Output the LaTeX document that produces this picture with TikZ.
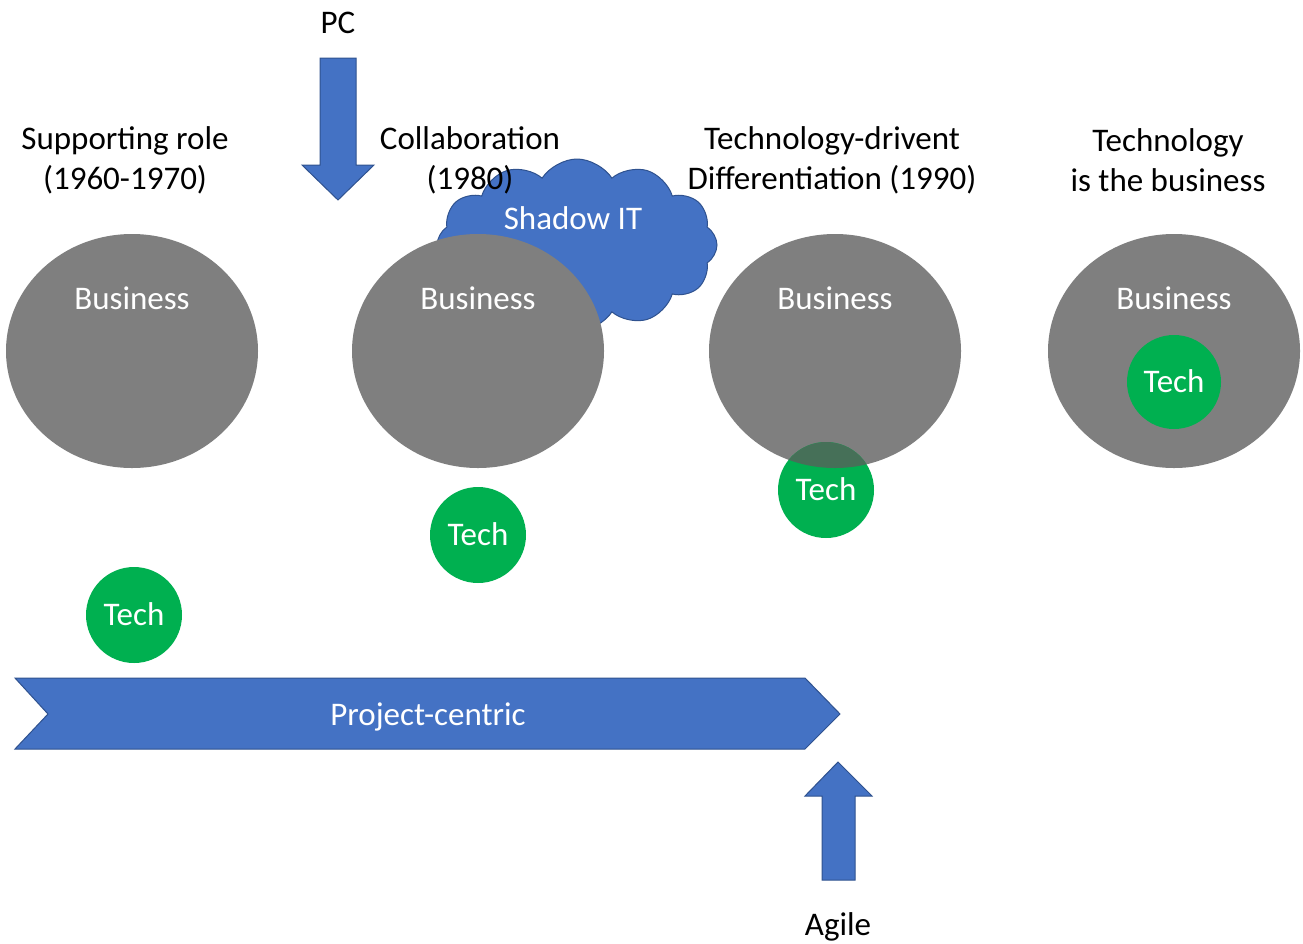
\documentclass[tikz,border=0pt]{standalone}
\usepackage{fontspec}
\setmainfont{Carlito}
\usetikzlibrary{shapes.geometric,shapes.symbols}
\definecolor{bblue}{HTML}{4472C4}
\definecolor{bborder}{HTML}{2F528F}
\definecolor{bgray}{HTML}{7F7F7F}
\definecolor{tgreen}{HTML}{00B050}
\definecolor{ovl}{HTML}{467058}
\tikzset{
  lbl/.style={font=\fontsize{33}{40}\selectfont, align=center, text=black, inner sep=0pt},
  wlbl/.style={font=\fontsize{33}{40}\selectfont, text=white, inner sep=0pt},
  biz/.style={ellipse, fill=bgray, minimum width=252pt, minimum height=234pt, inner sep=0pt},
  tech/.style={circle, fill=tgreen, minimum size=96pt, inner sep=0pt},
  barrow/.style={fill=bblue, draw=bborder, line width=1pt, line join=miter},
}
\begin{document}
\begin{tikzpicture}[x=1pt,y=-1pt]
\useasboundingbox (0,0) rectangle (1303,943);
% cloud
\node[cloud, cloud puffs=12, cloud puff arc=115, aspect=1.6, minimum width=280pt, minimum height=172pt, barrow, inner sep=0pt] (cloud) at (577,245) {};
\node[wlbl] (shadow) at (573,218) {Shadow IT};
% business ellipses
\node[biz] (b1) at (132,351) {};
\node[biz] (b2) at (478,351) {};
\node[biz] (b3) at (835,351) {};
\node[biz] (b4) at (1174,351) {};
\foreach \n/\x in {bt1/132,bt2/478,bt3/835,bt4/1174}
  \node[wlbl] (\n) at (\x,298) {Business};
% tech circles
\node[tech] (t1) at (134,615) {};
\node[tech] (t2) at (478,535) {};
\node[tech] (t3) at (826,490) {};
\begin{scope}
  \clip (835,351) ellipse [x radius=126pt, y radius=117pt];
  \fill[ovl] (826,490) circle [radius=48pt];
\end{scope}
\node[tech, minimum size=94pt] (t4) at (1174,382) {};
\foreach \n/\t in {tt1/t1,tt2/t2,tt3/t3,tt4/t4}
  \node[wlbl] (\n) at ([yshift=1pt]\t) {Tech};
% headings
\node[lbl] (h1) at (125,160) {Supporting role\\(1960-1970)};
\node[lbl] (h2) at (470,160) {Collaboration\\(1980)};
\node[lbl] (h3) at (832,160) {Technology-drivent\\Differentiation (1990)};
\node[lbl] (h4) at (1168,160) {Technology\\is the business};
% PC arrow
\draw[barrow] (320,58) -- (356,58) -- (356,165) -- (374,165) -- (338,200) -- (302,165) -- (320,165) -- cycle;
\node[lbl] (pc) at (338,23) {PC};
% project-centric chevron
\draw[barrow] (15,678) -- (805,678) -- (840,714) -- (805,749) -- (15,749) -- (48,714) -- cycle;
\node[wlbl] (proj) at (428,717) {Project-centric};
% Agile arrow
\draw[barrow] (822,880) -- (855,880) -- (855,796) -- (872,796) -- (838,762) -- (805,796) -- (822,796) -- cycle;
\node[lbl] (agile) at (838,927) {Agile};
\end{tikzpicture}
\end{document}
